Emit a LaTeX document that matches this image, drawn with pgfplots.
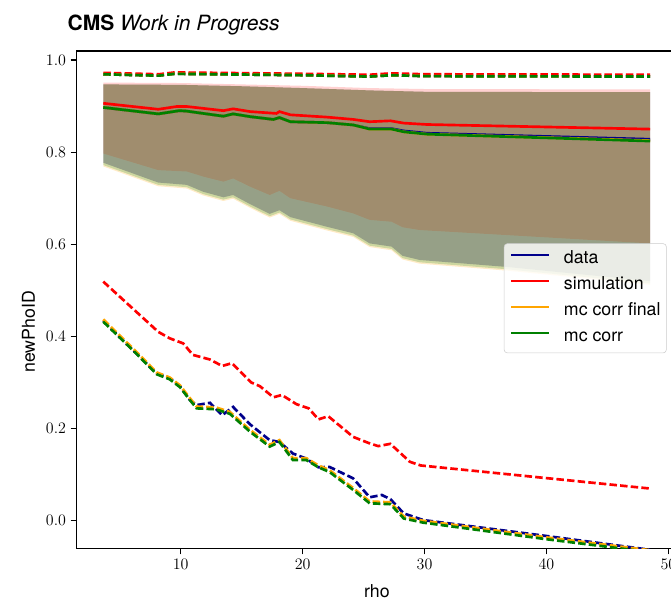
\documentclass[border=0pt]{standalone}
\usepackage{pgfplots}
\pgfplotsset{compat=1.18}
\usepackage{fontspec}
\setmainfont{TeX Gyre Heros}
\definecolor{cdata}{HTML}{00008B}
\definecolor{csim}{HTML}{FF0000}
\definecolor{cfin}{HTML}{FFA500}
\definecolor{ccor}{HTML}{008000}
\begin{document}
\begin{tikzpicture}
\useasboundingbox (-57.5pt,-38.8pt) rectangle (445.7pt,411.25pt);
\clip (-57.5pt,-38.8pt) rectangle (445.7pt,411.25pt);
\begin{axis}[
  name=ax, at={(0,0)}, anchor=south west,
  scale only axis, width=450.2pt, height=373pt,
  xmin=1.468, xmax=50.71, ymin=-0.0599, ymax=1.0195,
  xtick={10,20,30,40,50}, ytick={0,0.2,0.4,0.6,0.8,1.0},
  yticklabel style={/pgf/number format/.cd, fixed, fixed zerofill, precision=1},
  tick label style={font=\fontsize{12.5}{15}\selectfont},
  xtick pos=lower, ytick pos=left, tick align=outside,
  major tick length=4.5pt,
  axis line style={line width=0.9pt},
  every tick/.style={line width=0.9pt, black},
  xlabel={rho},
  label style={font=\fontsize{13.3}{15}\selectfont},
  xlabel style={at={(axis description cs:0.5,0)}, anchor=base, yshift=-36.8pt},
  legend style={at={(0.9828,0.6133)}, anchor=north east, draw=black!20,
    rounded corners=2.5pt, fill=white, fill opacity=0.8, text opacity=1, draw opacity=1,
    font=\fontsize{13.3}{15}\selectfont, inner xsep=4.4pt, inner ysep=5.5pt,
    nodes={inner sep=0pt, text height=9.5pt, text depth=3pt},
    row sep=7pt, column sep=10pt},
  legend cell align=left,
  legend image code/.code={\draw[#1, line width=2pt] (0pt,3.25pt) -- (28.5pt,3.25pt);},
  solidl/.style={line width=2pt},
  dashl/.style={line width=2pt, dash pattern=on 5.6pt off 2.4pt},
  band/.style={draw=none},
]
% ---------- bands ----------
\addplot[band, fill=cdata, fill opacity=0.33, forget plot] coordinates {
 (3.65,0.947)(10,0.946)(15,0.943)(20,0.939)(25.5,0.934)(30,0.931)(48.5,0.930)
 (48.5,0.520)(36.7,0.551)(29.6,0.566)(28.2,0.575)(27.3,0.595)(25.5,0.602)(24.15,0.624)
 (22.0,0.638)(19.0,0.659)(18.1,0.674)(17.3,0.666)(15.7,0.687)(14.3,0.707)(13.5,0.702)
 (11.85,0.714)(10.5,0.729)(8.16,0.734)(3.65,0.777)} -- cycle;
\addplot[band, fill=csim, fill opacity=0.18, forget plot] coordinates {
 (3.65,0.951)(10,0.950)(15,0.947)(20,0.944)(25.5,0.939)(30,0.937)(48.5,0.936)
 (48.5,0.602)(29.6,0.631)(28.2,0.637)(27.3,0.649)(25.5,0.653)(24.15,0.667)(22.0,0.682)
 (19.0,0.700)(18.1,0.716)(17.3,0.707)(15.7,0.725)(14.3,0.743)(13.5,0.736)(11.85,0.747)
 (10.5,0.758)(8.16,0.761)(3.65,0.797)} -- cycle;
\addplot[band, fill=cfin, fill opacity=0.22, forget plot] coordinates {
 (3.65,0.947)(10,0.946)(15,0.943)(20,0.939)(25.5,0.934)(30,0.931)(48.5,0.930)
 (48.5,0.512)(36.7,0.543)(29.6,0.558)(28.2,0.567)(27.3,0.587)(25.5,0.594)(24.15,0.616)
 (22.0,0.630)(19.0,0.651)(18.1,0.666)(17.3,0.658)(15.7,0.679)(14.3,0.699)(13.5,0.694)
 (11.85,0.706)(10.5,0.721)(8.16,0.726)(3.65,0.769)} -- cycle;
\addplot[band, fill=ccor, fill opacity=0.2, forget plot] coordinates {
 (3.65,0.947)(10,0.946)(15,0.943)(20,0.939)(25.5,0.934)(30,0.931)(48.5,0.930)
 (48.5,0.515)(36.7,0.546)(29.6,0.561)(28.2,0.570)(27.3,0.590)(25.5,0.597)(24.15,0.619)
 (22.0,0.633)(19.0,0.654)(18.1,0.669)(17.3,0.661)(15.7,0.682)(14.3,0.702)(13.5,0.697)
 (11.85,0.709)(10.5,0.724)(8.16,0.729)(3.65,0.772)} -- cycle;
% ---------- data ----------
\addplot[solidl, cdata, forget plot] coordinates {
 (3.65,0.897)(8.16,0.883)(9.9,0.890)(10.5,0.889)(11.85,0.884)(13.5,0.878)(14.3,0.883)
 (15.7,0.877)(17.6,0.871)(18.1,0.875)(19.0,0.866)(22.0,0.864)(24.15,0.859)(25.5,0.851)
 (27.3,0.851)(28.3,0.846)(30.2,0.841)(48.5,0.828)};
\addplot[dashl, cdata, forget plot] coordinates {
 (3.65,0.969)(8.2,0.966)(9.5,0.970)(13,0.969)(20,0.967)(25.5,0.964)(27.3,0.967)(30,0.965)(48.5,0.964)};
\addplot[dashl, cdata, forget plot] coordinates {
 (3.65,0.434)(8.03,0.320)(9.1,0.309)(9.94,0.292)(10.76,0.262)(11.3,0.251)(12.4,0.256)
 (13.4,0.229)(14.3,0.247)(15.7,0.209)(17.3,0.175)(18.1,0.171)(19.2,0.146)(20.3,0.135)
 (21.3,0.116)(22.2,0.117)(24.15,0.092)(25.5,0.051)(26.5,0.056)(27.2,0.047)(28.3,0.016)
 (29.9,0.0015)(40,-0.033)(48.5,-0.063)};
% ---------- simulation ----------
\addplot[solidl, csim, forget plot] coordinates {
 (3.65,0.906)(8.16,0.893)(9.67,0.899)(10.5,0.899)(11.85,0.895)(13.5,0.890)(14.3,0.894)
 (15.7,0.888)(17.85,0.884)(18.1,0.888)(19.0,0.881)(22.0,0.876)(24.15,0.871)(25.5,0.866)
 (27.2,0.868)(28.3,0.863)(30.2,0.860)(48.5,0.850)};
\addplot[dashl, csim, forget plot] coordinates {
 (3.65,0.972)(8.2,0.969)(9.5,0.973)(13,0.972)(20,0.970)(25.5,0.968)(27.3,0.971)(30,0.969)(48.5,0.968)};
\addplot[dashl, csim, forget plot] coordinates {
 (3.65,0.519)(8.16,0.410)(9.1,0.396)(10.2,0.385)(11.0,0.360)(12.4,0.350)(13.4,0.336)
 (14.2,0.342)(15.8,0.300)(16.5,0.292)(17.6,0.268)(18.3,0.273)(19.5,0.253)(20.5,0.244)
 (21.3,0.220)(22.1,0.227)(24.15,0.182)(25.4,0.169)(26.2,0.162)(27.2,0.167)(28.8,0.128)
 (29.7,0.120)(48.5,0.070)};
% ---------- mc corr final ----------
\addplot[solidl, cfin, forget plot] coordinates {
 (3.65,0.897)(8.16,0.883)(9.9,0.890)(10.5,0.889)(11.85,0.884)(13.5,0.878)(14.3,0.883)
 (15.7,0.877)(17.6,0.871)(18.1,0.875)(19.0,0.866)(22.0,0.864)(24.15,0.859)(25.5,0.850)
 (27.3,0.850)(28.3,0.844)(30.2,0.839)(48.5,0.825)};
\addplot[dashl, cfin, forget plot] coordinates {
 (3.65,0.969)(8.2,0.966)(9.5,0.970)(13,0.969)(20,0.967)(25.5,0.964)(27.3,0.967)(30,0.965)(48.5,0.964)};
\addplot[dashl, cfin, forget plot] coordinates {
 (3.65,0.437)(6.39,0.366)(8.03,0.322)(9.1,0.311)(9.94,0.294)(10.76,0.266)(11.3,0.248)
 (12.9,0.246)(14.04,0.236)(15.7,0.197)(17.3,0.165)(18.1,0.175)(19.2,0.136)(20.3,0.136)
 (21.3,0.120)(22.2,0.110)(24.15,0.071)(25.5,0.042)(27.2,0.040)(28.3,0.009)(29.9,0.000)
 (40,-0.036)(48.5,-0.064)};
% ---------- mc corr ----------
\addplot[solidl, ccor, forget plot] coordinates {
 (3.65,0.897)(8.16,0.883)(9.9,0.890)(10.5,0.889)(11.85,0.884)(13.5,0.878)(14.3,0.883)
 (15.7,0.877)(17.6,0.871)(18.1,0.875)(19.0,0.866)(22.0,0.864)(24.15,0.859)(25.5,0.850)
 (27.3,0.850)(28.3,0.844)(30.2,0.839)(48.5,0.824)};
\addplot[dashl, ccor, forget plot] coordinates {
 (3.65,0.969)(8.2,0.966)(9.5,0.970)(13,0.969)(20,0.967)(25.5,0.964)(27.3,0.967)(30,0.965)(48.5,0.964)};
\addplot[dashl, ccor, forget plot] coordinates {
 (3.65,0.432)(6.39,0.362)(8.03,0.318)(9.1,0.307)(9.94,0.290)(10.76,0.262)(11.3,0.244)
 (12.9,0.242)(14.04,0.232)(15.7,0.193)(17.3,0.161)(18.1,0.171)(19.2,0.132)(20.3,0.132)
 (21.3,0.116)(22.2,0.106)(24.15,0.067)(25.5,0.038)(27.2,0.036)(28.3,0.005)(29.9,-0.004)
 (40,-0.040)(48.5,-0.068)};
% ---------- legend ----------
\addlegendimage{cdata}\addlegendentry{data}
\addlegendimage{csim}\addlegendentry{simulation}
\addlegendimage{cfin}\addlegendentry{mc corr final}
\addlegendimage{ccor}\addlegendentry{mc corr}
\end{axis}
\node[rotate=90, anchor=base, inner sep=0pt, font=\fontsize{13.3}{15}\selectfont]
  at (-31.3pt,162.3pt) {newPhoID};
\node[anchor=base west, font=\fontsize{15.75}{18}\selectfont, inner sep=0pt]
  at ([xshift=-7pt, yshift=15pt]ax.north west) {\textbf{CMS} \textit{Work in Progress}};
\end{tikzpicture}
\end{document}
